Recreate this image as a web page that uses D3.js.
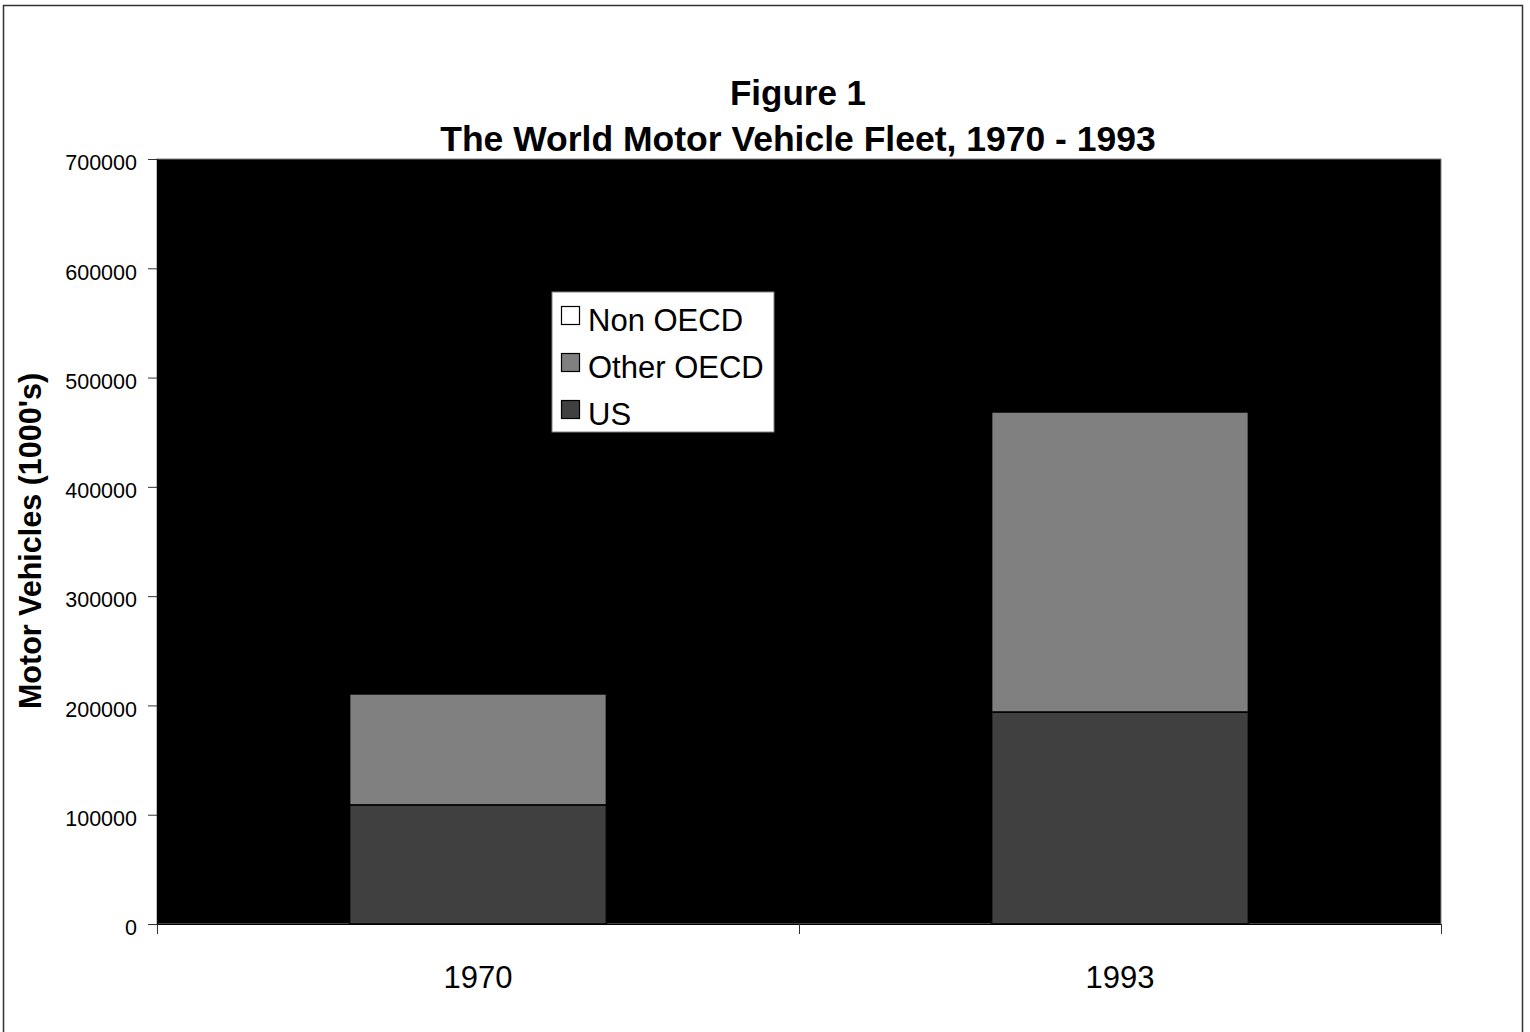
<!DOCTYPE html>
<html>
<head>
<meta charset="utf-8">
<script src="https://cdn.jsdelivr.net/npm/d3@7"></script>
<style>
  body { margin: 0; background: #fff; }
  text { font-family: "Liberation Sans", Arial, sans-serif; }
</style>
</head>
<body>
<svg id="chart" width="1530" height="1032"></svg>
<script>
const years = ["1970", "1993"];
const seriesNames = ["US", "Other OECD", "Non OECD"];
const usValues = [109000, 194000];
const otherOecdValues = [101500, 274500];
// Non OECD segment is not visible in the picture (drawn black on black)
const nonOecdValues = [0, 0];
const yTicks = [0, 100000, 200000, 300000, 400000, 500000, 600000, 700000];

const margin = { top: 159, left: 157, right: 89, bottom: 108 };
const width = 1530, height = 1032;
const graphWidth = width - margin.left - margin.right;
const graphHeight = height - margin.top - margin.bottom;

const fills = { "US": "#404040", "Other OECD": "#808080", "Non OECD": "#000000" };
const legendFills = { "US": "#404040", "Other OECD": "#808080", "Non OECD": "#ffffff" };

const table = years.map((yr, i) => ({
  year: yr,
  "US": usValues[i],
  "Other OECD": otherOecdValues[i],
  "Non OECD": nonOecdValues[i]
}));

const svg = d3.select("#chart");

// outer frame
svg.append("rect")
  .attr("x", 3.5).attr("y", 5.5)
  .attr("width", 1519).attr("height", 1040)
  .attr("fill", "none").attr("stroke", "#333").attr("stroke-width", 1.5);

// title
svg.append("text")
  .attr("x", 798).attr("y", 105)
  .attr("text-anchor", "middle")
  .style("font-weight", "bold").style("font-size", "35px")
  .text("Figure 1");
svg.append("text")
  .attr("x", 798).attr("y", 151)
  .attr("text-anchor", "middle")
  .style("font-weight", "bold").style("font-size", "35.5px")
  .text("The World Motor Vehicle Fleet, 1970 - 1993");

const container = svg.append("g")
  .attr("transform", `translate(${margin.left}, ${margin.top})`);

const x = d3.scaleBand()
  .domain(years)
  .range([0, graphWidth])
  .paddingInner(0.6)
  .paddingOuter(0.3);

const xBand = d3.scaleBand()
  .domain(years)
  .range([0, graphWidth]);

const y = d3.scaleLinear()
  .domain([0, 700000])
  .range([graphHeight, 0]);

// plot area
container.append("rect")
  .attr("x", 0).attr("y", 0)
  .attr("width", graphWidth).attr("height", graphHeight)
  .attr("fill", "#000").attr("stroke", "#808080").attr("stroke-width", 1);

// stacked bars
const stack = d3.stack().keys(seriesNames);
const layers = stack(table);

container.selectAll("g.layer")
  .data(layers)
  .join("g")
  .attr("class", "layer")
  .attr("fill", (d) => fills[d.key])
  .selectAll("rect")
  .data((d) => d)
  .join("rect")
  .attr("x", (d) => x(d.data.year))
  .attr("y", (d) => y(d[1]))
  .attr("width", x.bandwidth())
  .attr("height", (d) => y(d[0]) - y(d[1]))
  .attr("stroke", "#000")
  .attr("stroke-width", 1.5);

// y axis
const yAxis = d3.axisLeft(y).tickValues(yTicks).tickSize(9).tickPadding(11)
  .tickFormat((d) => `${d}`);
const yG = container.append("g").call(yAxis);
yG.select(".domain").attr("stroke", "#000");
yG.selectAll(".tick line").attr("stroke", "#333");
yG.selectAll(".tick text")
  .attr("dy", "0.5em")
  .style("font-size", "21.5px")
  .style("font-family", "Liberation Sans, Arial, sans-serif")
  .attr("fill", "#000");

// x axis
const xAxis = d3.axisBottom(xBand).tickSize(0).tickPadding(42);
const xG = container.append("g")
  .attr("transform", `translate(0, ${graphHeight})`)
  .call(xAxis);
xG.select(".domain").attr("stroke", "#000");
xG.selectAll(".tick text")
  .style("font-size", "31px")
  .style("font-family", "Liberation Sans, Arial, sans-serif")
  .attr("fill", "#000");
// category separators
xG.selectAll("line.sep")
  .data([0, ...years.map((yr) => xBand(yr) + xBand.bandwidth())])
  .join("line")
  .attr("class", "sep")
  .attr("x1", (d) => d + 0.5).attr("x2", (d) => d + 0.5)
  .attr("y1", 0).attr("y2", 10)
  .attr("stroke", "#333");

// y axis title
svg.append("text")
  .attr("transform", "translate(41, 541) rotate(-90)")
  .attr("text-anchor", "middle")
  .style("font-weight", "bold").style("font-size", "30.5px")
  .text("Motor Vehicles (1000's)");

// legend
const legend = svg.append("g").attr("transform", "translate(552, 292)");
legend.append("rect")
  .attr("width", 222).attr("height", 140)
  .attr("fill", "#fff").attr("stroke", "#808080");
const legendOrder = ["Non OECD", "Other OECD", "US"];
const items = legend.selectAll("g.item")
  .data(legendOrder)
  .join("g")
  .attr("class", "item")
  .attr("transform", (d, i) => `translate(9, ${39 + i * 47})`);
items.append("rect")
  .attr("x", 0.5).attr("y", -24.5)
  .attr("width", 18).attr("height", 18)
  .attr("fill", (d) => legendFills[d])
  .attr("stroke", "#000").attr("stroke-width", 1.2);
items.append("text")
  .attr("x", 27).attr("y", 0)
  .style("font-size", "31px")
  .text((d) => d);
</script>
</body>
</html>
